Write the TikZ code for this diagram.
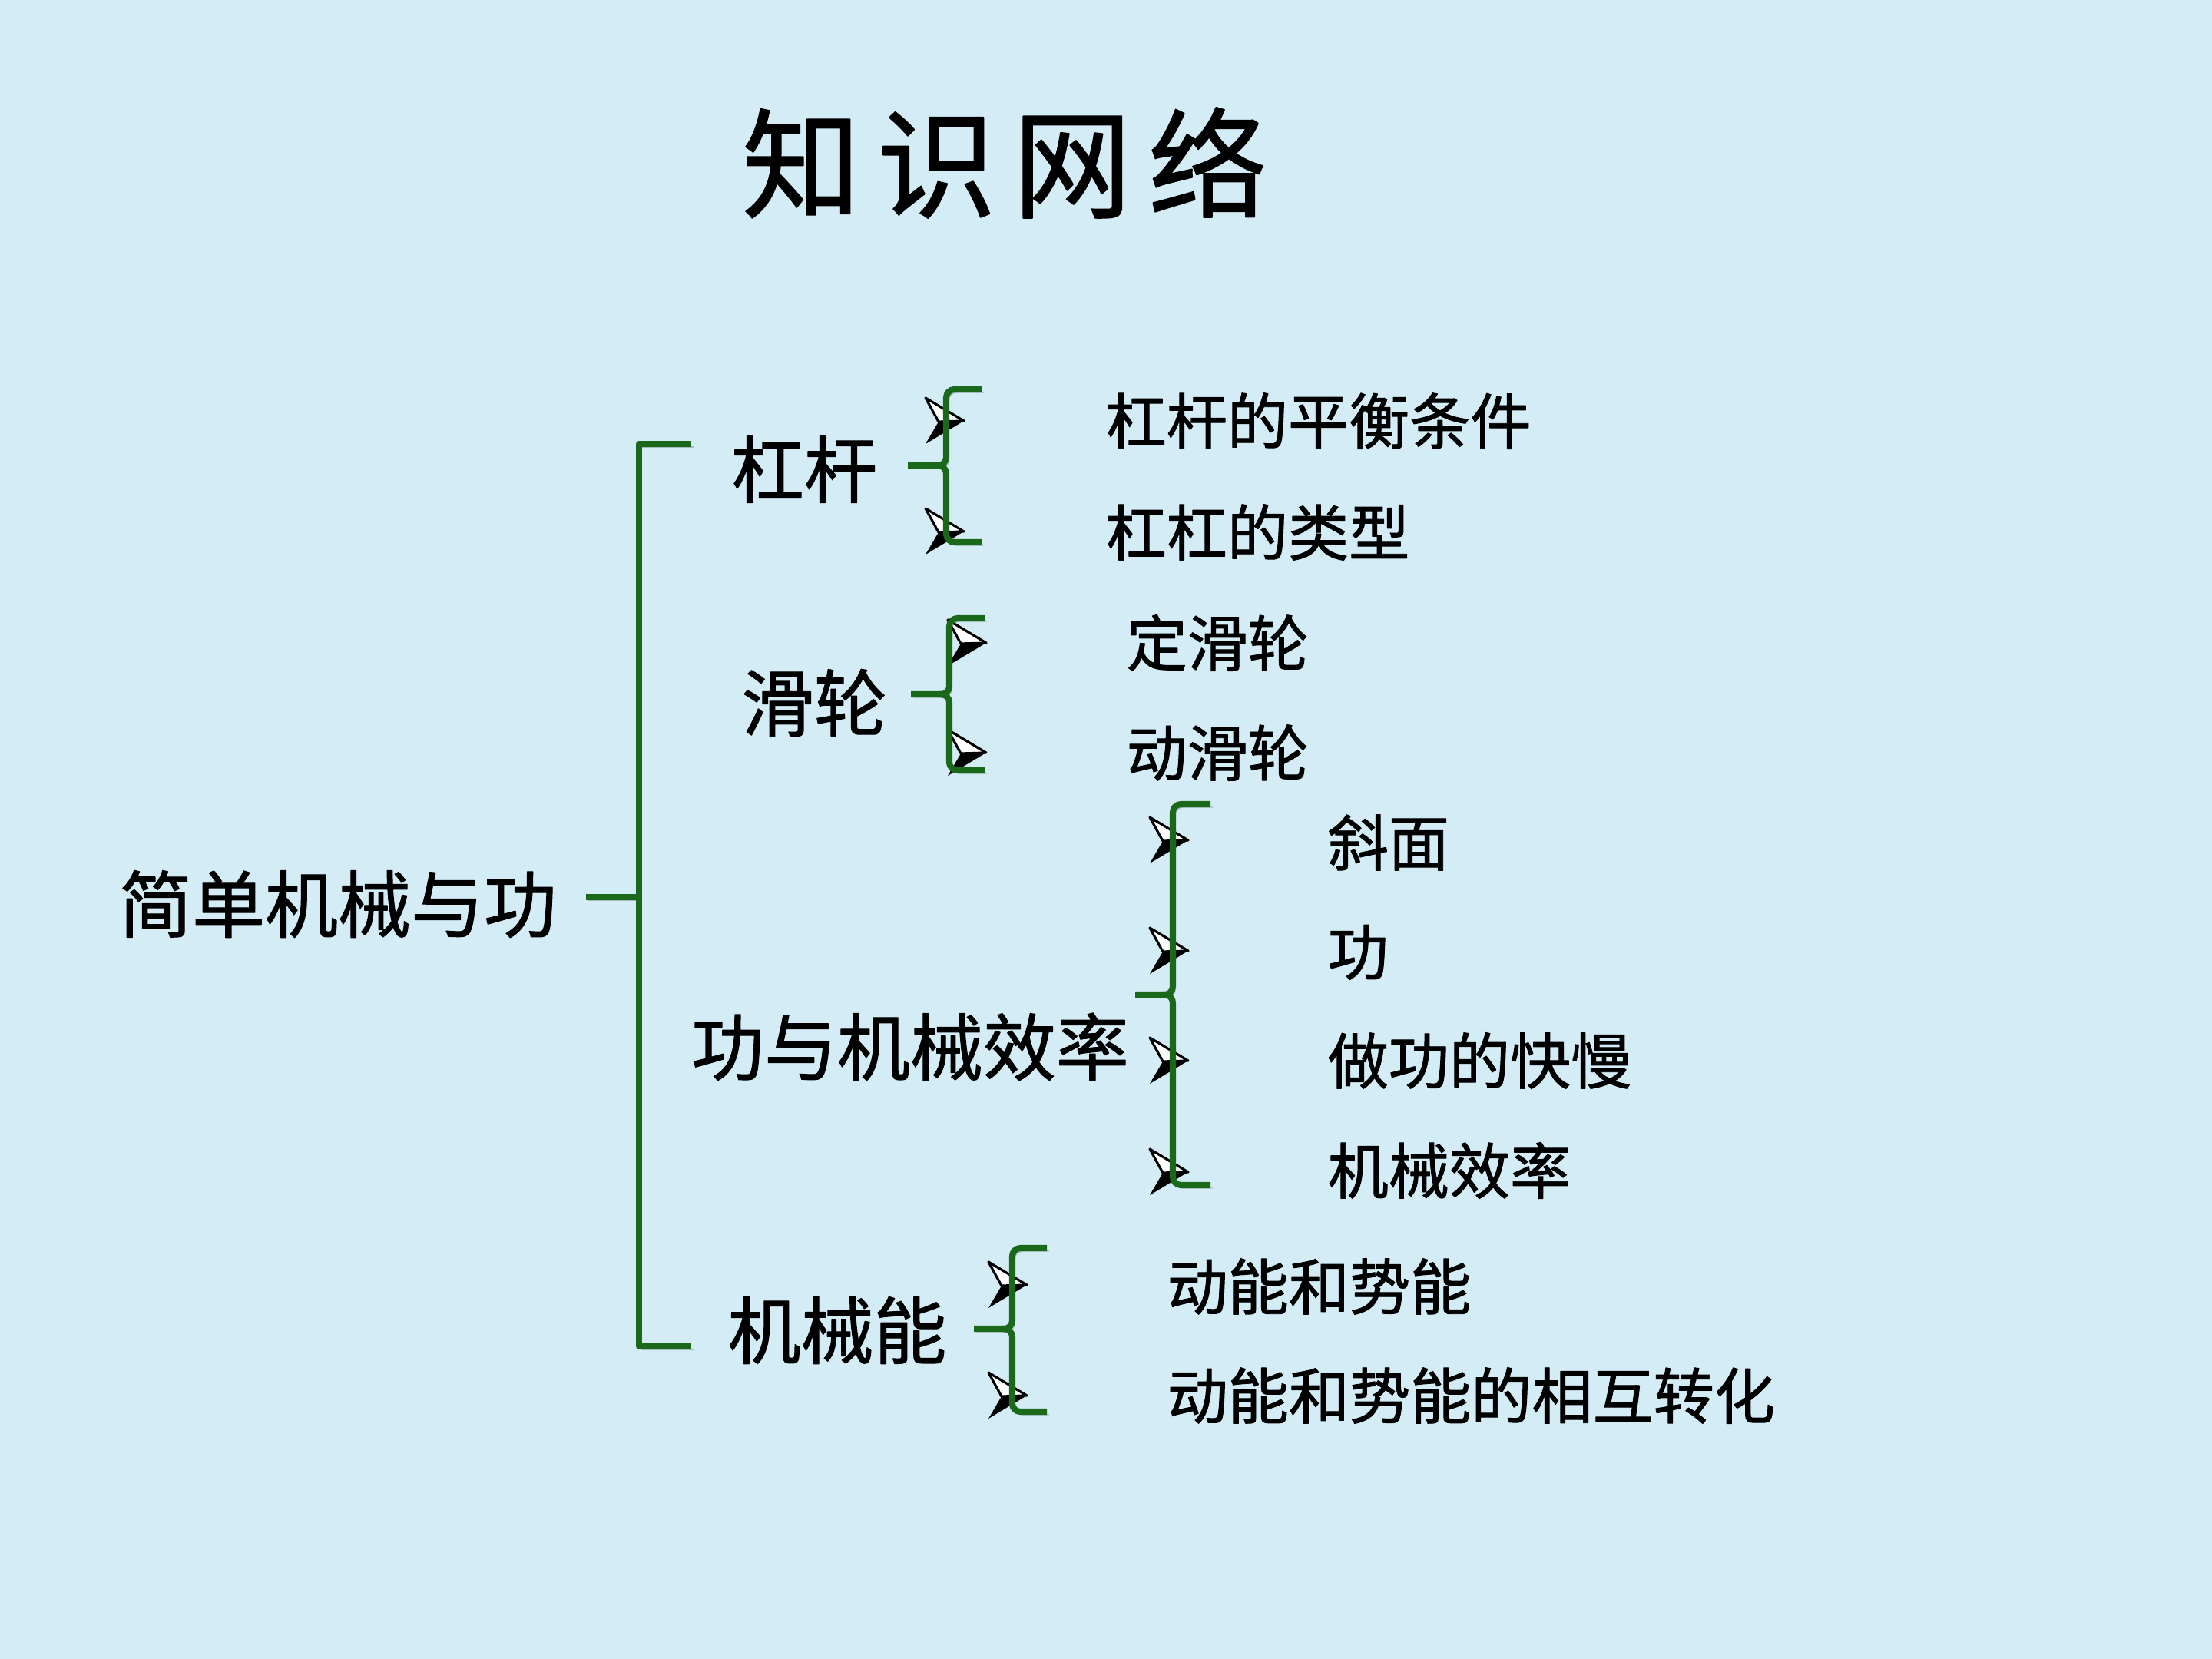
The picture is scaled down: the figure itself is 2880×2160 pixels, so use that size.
\documentclass[tikz,border=0pt]{standalone}
\usepackage{fontspec}
\setmainfont{Noto Sans CJK SC}[FakeBold=1.2]
\definecolor{nen}{RGB}{212,236,245}
\definecolor{xanh}{RGB}{26,104,26}
\begin{document}
\begin{tikzpicture}[x=0.01cm,y=-0.01cm,line join=round]
	\useasboundingbox (0,0) rectangle (2880,2160);
	\fill[nen] (0,0) rectangle (2880,2160);
	\tikzset{kuo/.style={draw=xanh,line width=2.3pt,preaction={draw=black,opacity=.22,transform canvas={shift={(3,4)}}}},
		gen/.style={font=\fontsize{27}{32}\selectfont,inner sep=0pt},
		ye/.style={font=\fontsize{22.5}{27}\selectfont,inner sep=0pt,anchor=west},
		jiantou/.pic={
			\fill[black] (0,0) -- (-33,1) -- (-50,30) -- cycle;
			\filldraw[fill=white,draw=black,line width=.9pt] (0,0) -- (-50,-30) -- (-33,1) -- cycle;
	}}
	\node[font={\fontsize{44}{52}\selectfont\addfontfeature{LetterSpace=14}},inner sep=0pt] (bt) at (1308,212) {知识网络};
	\node[gen] (root) at (440,1177) {简单机械与功};
	\node[gen] (gg) at (1047,611) {杠杆};
	\node[gen] (hl) at (1060,915) {滑轮};
	\node[gen] (gx) at (1185,1363) {功与机械效率};
	\node[gen] (jx) at (1090,1732) {机械能};
	\coordinate (jd) at (832,1168);
	\draw[kuo] (763,1168) -- (jd);
	\draw[kuo] (900,578) -- (832,578) -- (832,1753) -- (900,1753);
	\foreach \x/\y in {1255/548,1255/692,1284/837,1284/980,1547/1094,1547/1238,1547/1381,1547/1526,1337/1673,1337/1817}{\pic at(\x,\y) {jiantou};}
	\foreach \xa/\ta/\ma/\ba/\ra/\la in {1232/507/606/706/1278/1182,1236/805/904/1003/1282/1186,1527/1047/1295/1543/1576/1478,1318/1625/1730/1838/1363/1268}{
		\draw[kuo,rounded corners=3pt] (\ra,\ta) -- (\xa,\ta) -- (\xa,\ma) -- (\la,\ma);
		\draw[kuo,rounded corners=3pt] (\xa-14,\ma) -- (\xa,\ma) -- (\xa,\ba) -- (\ra,\ba);}
	\foreach \x/\y/\txt [count=\i] in {1439/548/杠杆的平衡条件,1439/693/杠杠的类型,1466/837/定滑轮,1466/980/动滑轮,1728/1097/斜面,1728/1240/功,1728/1381/做功的快慢,1728/1524/机械效率,1519/1675/动能和势能,1519/1817/动能和势能的相互转化}{
		\node[ye] (ye\i) at (\x,\y) {\txt};}
\end{tikzpicture}
\end{document}
